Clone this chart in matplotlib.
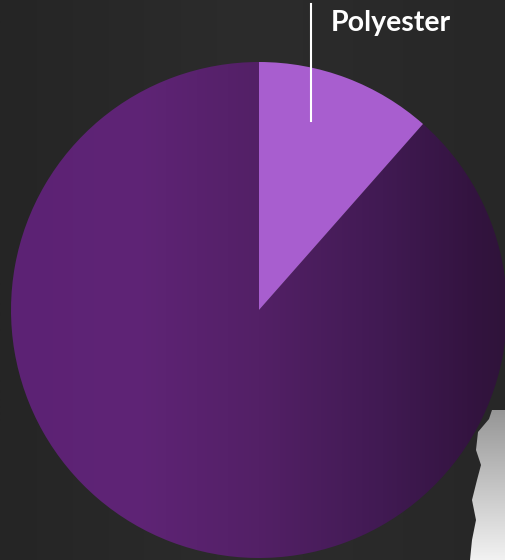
import matplotlib
matplotlib.use("Agg")
import matplotlib.pyplot as plt
import numpy as np
from matplotlib.colors import LinearSegmentedColormap
from matplotlib.patches import Polygon

# Data
categories = ["Polyester", "Other"]
values = [11.5, 88.5]
labels_shown = ["Polyester"]

W, H = 505, 560
fig = plt.figure(figsize=(W / 100, H / 100), dpi=100)
fig.patch.set_facecolor("#262626")
ax = fig.add_axes([0, 0, 1, 1])

# background dark gradient (decorative)
bg = np.linspace(0, 1, 256).reshape(1, -1)
bg_cmap = LinearSegmentedColormap.from_list("bg", ["#252525", "#2c2c2c", "#272727"])
ax.imshow(bg, extent=[0, W, 0, H], cmap=bg_cmap, aspect="auto", zorder=0)

# light grey artifact bottom-right (decorative)
edge = [(505, 150), (492, 150), (489, 141), (478, 128), (476, 110), (481, 95), (477, 80),
        (472, 60), (476, 40), (472, 20), (470, 0), (505, 0)]
poly = Polygon(edge, closed=True, facecolor="none", edgecolor="none")
ax.add_patch(poly)
gy = np.linspace(0, 1, 256).reshape(-1, 1)
gcm = LinearSegmentedColormap.from_list("g", ["#969696", "#f2f2f2"])
im2 = ax.imshow(gy, extent=[460, W, 0, 150], cmap=gcm, aspect="auto", zorder=1)
im2.set_clip_path(poly)

cx, cy, r = 259, 250, 248
wedges, _ = ax.pie(values, startangle=90, counterclock=False, center=(cx, cy), radius=r,
                   colors=["#a85ecf", "#4a1c5e"], wedgeprops=dict(linewidth=0),
                   frame=True)
ax.set_xlim(0, W)
ax.set_ylim(0, H)
ax.set_aspect("equal")
ax.axis("off")
for w in wedges:
    w.set_zorder(2)

# gradient fill for big slice
grad = np.linspace(0, 1, 512).reshape(1, -1)
pcmap = LinearSegmentedColormap.from_list(
    "p", [(0.0, "#5c2274"), (0.25, "#5f2476"), (0.5, "#532066"),
          (0.75, "#411a53"), (0.95, "#32133e"), (1.0, "#2f143a")])
big = wedges[1]
big.set_facecolor("none")
im = ax.imshow(grad, extent=[cx - r, cx + r, cy - r, cy + r], cmap=pcmap,
               aspect="auto", zorder=2)
im.set_clip_path(big)
wedges[0].set_zorder(3)

# leader line and label
ax.plot([311, 311], [H - 4, H - 121], color="white", lw=1.5, zorder=4)
ax.text(331, H - 23, labels_shown[0], color="white", fontsize=20.5,
        fontweight="bold", family="Lato", va="center", ha="left", zorder=5)

fig.savefig("out.png", dpi=100, facecolor=fig.get_facecolor())
